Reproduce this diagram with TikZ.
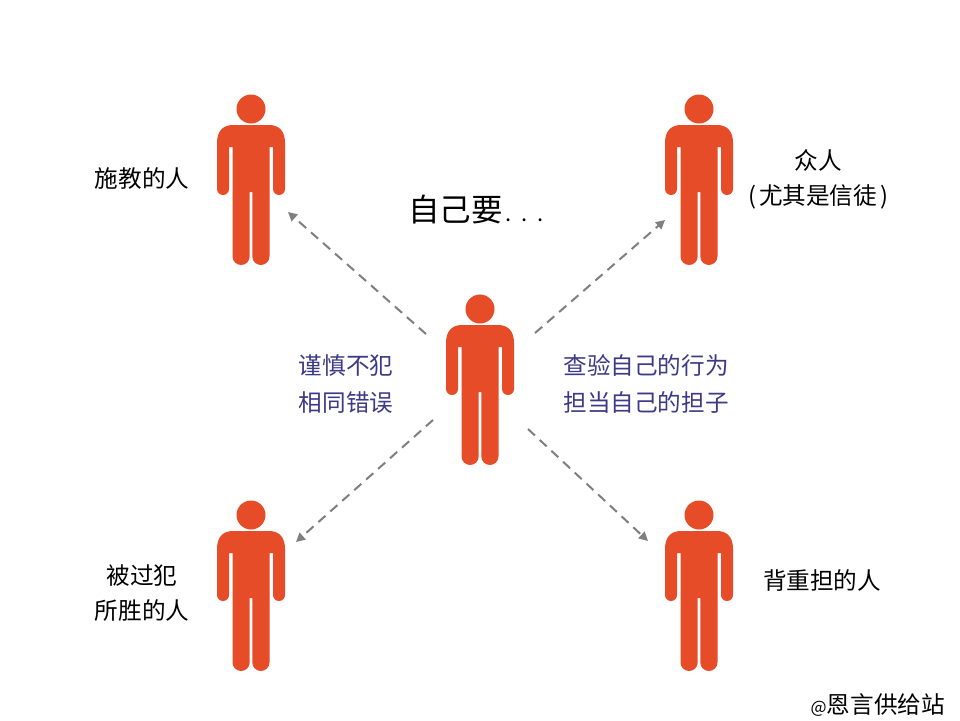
\documentclass[tikz,border=0pt]{standalone}
\usepackage{fontspec}
\setmainfont{Noto Sans CJK SC}
\usetikzlibrary{arrows.meta}
\definecolor{figred}{HTML}{E64C28}
\definecolor{labelblue}{HTML}{3C3A86}
\definecolor{arrowgray}{HTML}{7F7F7F}
\tikzset{
  figure/.pic={
    \fill[figred] (0,-156) circle (14.5);
    \fill[figred]
      (-34,-122) .. controls (-34,-134) and (-28,-140) .. (-18,-140)
      -- (18,-140) .. controls (28,-140) and (34,-134) .. (34,-122)
      -- (34,-76) arc[start angle=0,end angle=-180,x radius=6,y radius=-6] -- (22,-118)
      -- (18.5,-118) -- (18.5,-8.6) arc[start angle=0,end angle=-180,x radius=8.6,y radius=-8.6]
      -- (1.3,-73) -- (-1.3,-73) -- (-1.3,-8.6) arc[start angle=0,end angle=-180,x radius=8.6,y radius=-8.6]
      -- (-18.5,-118) -- (-22,-118) -- (-22,-76) arc[start angle=0,end angle=-180,x radius=6,y radius=-6] -- cycle;
  },
  plain/.style={text=black,font=\fontsize{23.6}{35}\selectfont,align=center,inner sep=0pt},
  blue/.style={text=labelblue,font=\fontsize{23.6}{37}\selectfont,align=center,inner sep=0pt},
  link/.style={draw=arrowgray,line width=2pt,dash pattern=on 9.5pt off 6.5pt,-{Triangle[length=9pt,width=9pt]}}
}
\begin{document}
\begin{tikzpicture}[x=1pt,y=-1pt]
\useasboundingbox (0,0) rectangle (960,720);
\fill[white] (0,0) rectangle (960,720);
\pic at (251,265) {figure};
\pic at (699,265) {figure};
\pic at (480,465) {figure};
\pic at (251,671) {figure};
\pic at (699,671) {figure};
\coordinate (ulS) at (426,334); \coordinate (ulE) at (288,212);
\coordinate (urS) at (535,333); \coordinate (urE) at (665,220);
\coordinate (llS) at (433,420); \coordinate (llE) at (296,542);
\coordinate (lrS) at (528,429); \coordinate (lrE) at (648,541);
\draw[link] (ulS) -- (ulE);
\draw[link] (urS) -- (urE);
\draw[link] (llS) -- (llE);
\draw[link] (lrS) -- (lrE);
\node[plain] (teach) at (142,179) {施教的人};
\node[plain] (crowd) at (818,179) {众人\\(\hspace{3pt}尤其是信徒\hspace{3pt})};
\node[plain,font=\fontsize{31.5}{36}\selectfont,anchor=west] (self) at (408,210) {自己要\fontsize{22}{26}\selectfont\hspace{3pt}.\hspace{10pt}.\hspace{10pt}.};
\node[blue] (careful) at (346,384) {谨慎不犯\\相同错误};
\node[blue] (check) at (646,384) {查验自己的行为\\担当自己的担子};
\node[plain] (fallen) at (142,593) {被过犯\\所胜的人};
\node[plain] (burden) at (822,580) {背重担的人};
\node[plain,anchor=east] (credit) at (945,705) {{\fontsize{17}{20}\selectfont @}恩言供给站};
\end{tikzpicture}
\end{document}
